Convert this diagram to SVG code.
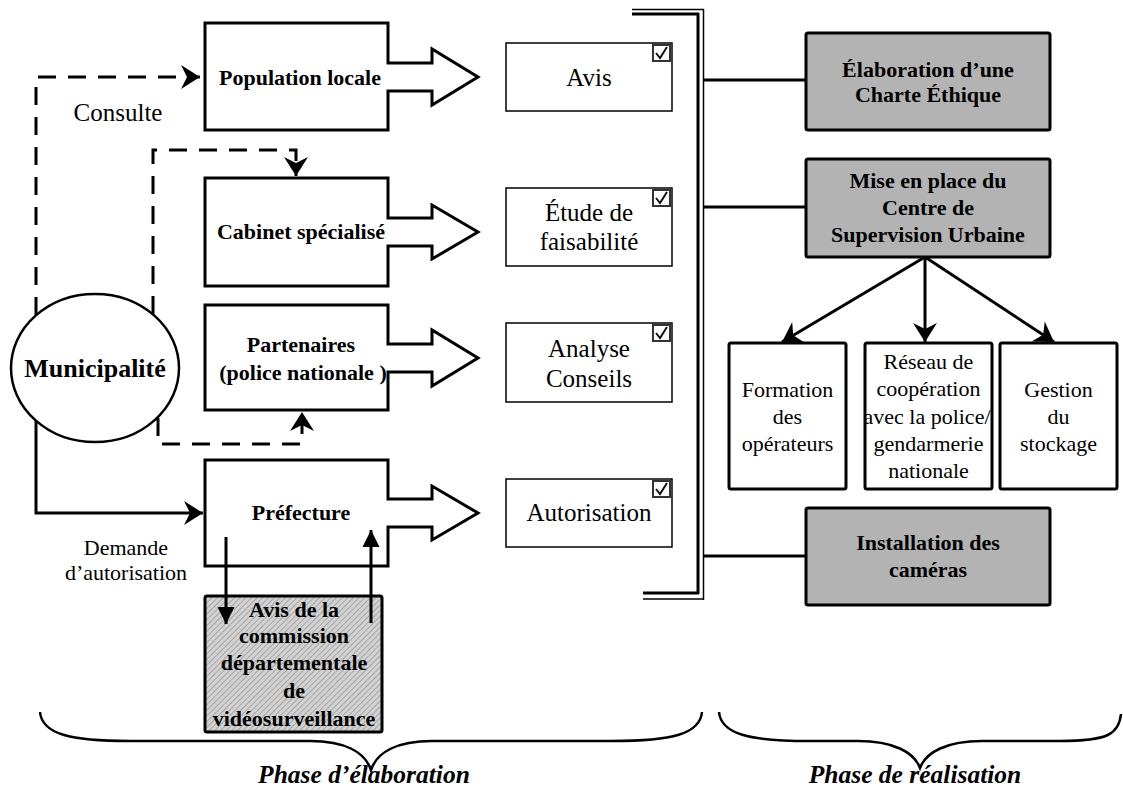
<svg xmlns="http://www.w3.org/2000/svg" width="1123" height="791" viewBox="0 0 1123 791">
<style>
text{font-family:"Liberation Serif","Times New Roman",serif;fill:#000}
.b{font-weight:bold;font-size:22px}
.r{font-size:25px}
.s{font-size:22px}
.m{font-weight:bold;font-size:26px}
.ph{font-weight:bold;font-style:italic;font-size:25.5px}
.blk{fill:#fff;stroke:#000;stroke-width:3;stroke-linejoin:miter}
.out{fill:#fff;stroke:#000;stroke-width:1.5}
.gray{fill:#b3b3b3;stroke:#000;stroke-width:3}
.sm{fill:#fff;stroke:#000;stroke-width:3}
.ln{fill:none;stroke:#000;stroke-width:3}
.dash{fill:none;stroke:#000;stroke-width:3;stroke-dasharray:18 12}
.cb{fill:#fff;stroke:#333;stroke-width:2}
.ck{fill:none;stroke:#111;stroke-width:2}
.brace{fill:none;stroke:#000;stroke-width:2.5}
</style>
<defs>
<marker id="ah" markerUnits="userSpaceOnUse" markerWidth="24" markerHeight="26" viewBox="-20 -13 22 26" refX="0" refY="0" orient="auto">
<path d="M0,0 L-19,-12 L-13,0 L-19,12 Z" fill="#000"/>
</marker>
<marker id="ahs" markerUnits="userSpaceOnUse" markerWidth="20" markerHeight="20" viewBox="-18 -10 20 20" refX="0" refY="0" orient="auto">
<path d="M0,0 L-17,-8.5 L-17,8.5 Z" fill="#000"/>
</marker>
<pattern id="hatch" width="4" height="4" patternUnits="userSpaceOnUse" patternTransform="rotate(45)">
<rect width="4" height="4" fill="#d2d2d2"/>
<line x1="0" y1="0" x2="0" y2="4" stroke="#9a9a9a" stroke-width="1.6"/>
</pattern>
</defs>

<g id="connectors">
<path class="dash" d="M36,315 V77 H200" marker-end="url(#ah)"/>
<path class="dash" d="M153,314 V150 H296 V176" marker-end="url(#ah)"/>
<path class="dash" d="M158,418 V444 H302 V412" marker-end="url(#ah)"/>
<path class="ln" d="M36,421 V513 H203" marker-end="url(#ah)"/>
<line class="ln" x1="704" y1="80" x2="806" y2="80"/>
<line class="ln" x1="704" y1="207" x2="806" y2="207"/>
<line class="ln" x1="704" y1="556" x2="806" y2="556"/>
<line class="ln" x1="925" y1="257" x2="782" y2="342" marker-end="url(#ah)"/>
<line class="ln" x1="925" y1="257" x2="925" y2="342" marker-end="url(#ah)"/>
<line class="ln" x1="925" y1="257" x2="1054" y2="342" marker-end="url(#ah)"/>
</g>

<g id="double-bracket">
<line x1="632" y1="9.5" x2="704" y2="9.5" stroke="#000" stroke-width="1.5"/>
<line x1="632" y1="14" x2="699" y2="14" stroke="#000" stroke-width="3"/>
<line x1="698" y1="13" x2="698" y2="594" stroke="#000" stroke-width="3"/>
<line x1="703.5" y1="9" x2="703.5" y2="600" stroke="#000" stroke-width="1.5"/>
<line x1="643" y1="593" x2="699" y2="593" stroke="#000" stroke-width="3"/>
<line x1="643" y1="599" x2="704" y2="599" stroke="#000" stroke-width="1.5"/>
</g>

<g id="municipalite">
<ellipse cx="95" cy="368" rx="84" ry="74" fill="#fff" stroke="#000" stroke-width="2.5"/>
<text class="m" x="95" y="377" text-anchor="middle">Municipalité</text>
</g>

<g id="consulte-label"><text class="r" x="118" y="121" text-anchor="middle">Consulte</text></g>
<g id="demande-label">
<text class="s" x="126" y="555" text-anchor="middle">Demande</text>
<text class="s" x="126" y="580" text-anchor="middle">d’autorisation</text>
</g>

<g id="population">
<path class="blk" d="M205,23 H388 V63 H432 V49 L478,77 L432,105 V91 H388 V130 H205 Z"/>
<text class="b" x="300" y="85" text-anchor="middle">Population locale</text>
</g>
<g id="cabinet">
<path class="blk" d="M205,178 H388 V218 H432 V205 L478,232 L432,259 V246 H388 V286 H205 Z"/>
<text class="b" x="301" y="239" text-anchor="middle">Cabinet spécialisé</text>
</g>
<g id="partenaires">
<path class="blk" d="M205,305 H388 V344 H432 V330 L478,358 L432,386 V372 H388 V410 H205 Z"/>
<text class="b" x="301" y="352" text-anchor="middle">Partenaires</text>
<text class="b" x="303" y="380" text-anchor="middle">(police nationale )</text>
</g>
<g id="prefecture">
<path class="blk" d="M205,460 H388 V499 H432 V486 L478,513 L432,540 V527 H388 V566 H205 Z"/>
<text class="b" x="301" y="520" text-anchor="middle">Préfecture</text>
</g>

<g id="commission">
<rect x="205" y="596" width="177" height="136" rx="2" fill="url(#hatch)" stroke="#000" stroke-width="3"/>
<text class="b" x="294" y="617" text-anchor="middle">Avis de la</text>
<text class="b" x="294" y="643" text-anchor="middle">commission</text>
<text class="b" x="294" y="670" text-anchor="middle">départementale</text>
<text class="b" x="294" y="698" text-anchor="middle">de</text>
<text class="b" x="294" y="726" text-anchor="middle">vidéosurveillance</text>
</g>

<g id="connectors-prefecture">
<line class="ln" x1="226" y1="537" x2="226" y2="624" marker-end="url(#ahs)"/>
<line class="ln" x1="371" y1="623" x2="371" y2="530" marker-end="url(#ahs)"/>
</g>

<g id="avis">
<rect class="out" x="506" y="43" width="166" height="68"/>
<rect class="cb" x="653" y="45" width="17" height="16"/>
<path class="ck" d="M656,53 L660,58 L667,47"/>
<text class="r" x="589" y="86" text-anchor="middle">Avis</text>
</g>
<g id="etude">
<rect class="out" x="506" y="188" width="166" height="78"/>
<rect class="cb" x="653" y="190" width="17" height="16"/>
<path class="ck" d="M656,198 L660,203 L667,192"/>
<text class="r" x="589" y="221" text-anchor="middle">Étude de</text>
<text class="r" x="589" y="250" text-anchor="middle">faisabilité</text>
</g>
<g id="analyse">
<rect class="out" x="506" y="323" width="166" height="79"/>
<rect class="cb" x="653" y="325" width="17" height="16"/>
<path class="ck" d="M656,333 L660,338 L667,327"/>
<text class="r" x="589" y="357" text-anchor="middle">Analyse</text>
<text class="r" x="589" y="387" text-anchor="middle">Conseils</text>
</g>
<g id="autorisation">
<rect class="out" x="506" y="479" width="166" height="68"/>
<rect class="cb" x="653" y="481" width="17" height="16"/>
<path class="ck" d="M656,489 L660,494 L667,483"/>
<text class="r" x="589" y="521" text-anchor="middle">Autorisation</text>
</g>

<g id="charte">
<rect class="gray" x="806" y="33" width="244" height="97" rx="2"/>
<text class="b" x="928" y="77" text-anchor="middle">Élaboration d’une</text>
<text class="b" x="928" y="102" text-anchor="middle">Charte Éthique</text>
</g>
<g id="centre">
<rect class="gray" x="806" y="159" width="244" height="98" rx="2"/>
<text class="b" x="928" y="188" text-anchor="middle">Mise en place du</text>
<text class="b" x="928" y="215" text-anchor="middle">Centre de</text>
<text class="b" x="928" y="242" text-anchor="middle">Supervision Urbaine</text>
</g>
<g id="installation">
<rect class="gray" x="806" y="508" width="244" height="97" rx="2"/>
<text class="b" x="928" y="550" text-anchor="middle">Installation des</text>
<text class="b" x="928" y="577" text-anchor="middle">caméras</text>
</g>

<g id="formation">
<rect class="sm" x="729" y="343" width="117" height="146" rx="2"/>
<text class="s" x="787.5" y="397" text-anchor="middle">Formation</text>
<text class="s" x="787.5" y="424" text-anchor="middle">des</text>
<text class="s" x="787.5" y="451" text-anchor="middle">opérateurs</text>
</g>
<g id="reseau">
<rect class="sm" x="865" y="343" width="127" height="146" rx="2"/>
<text class="s" x="928.5" y="369" text-anchor="middle">Réseau de</text>
<text class="s" x="928.5" y="396" text-anchor="middle">coopération</text>
<text class="s" x="927" y="424" text-anchor="middle">avec la police/</text>
<text class="s" x="928.5" y="451" text-anchor="middle">gendarmerie</text>
<text class="s" x="928.5" y="478" text-anchor="middle">nationale</text>
</g>
<g id="gestion">
<rect class="sm" x="1000" y="343" width="117" height="146" rx="2"/>
<text class="s" x="1058.5" y="397" text-anchor="middle">Gestion</text>
<text class="s" x="1058.5" y="424" text-anchor="middle">du</text>
<text class="s" x="1058.5" y="451" text-anchor="middle">stockage</text>
</g>

<g id="phase-elaboration">
<path class="brace" d="M40,712 C42,734 70,741 130,741 L310,741 C345,741 365,752 371,770 C377,752 397,741 432,741 L612,741 C672,741 700,734 702,712"/>
<text class="ph" x="364" y="783" text-anchor="middle">Phase d’élaboration</text>
</g>
<g id="phase-realisation">
<path class="brace" d="M719,712 C721,734 749,741 809,741 L858,741 C893,741 914,752 920,768 C926,752 947,741 982,741 L1060,741 C1108,741 1119,734 1121,714"/>
<text class="ph" x="915" y="783" text-anchor="middle">Phase de réalisation</text>
</g>
</svg>
